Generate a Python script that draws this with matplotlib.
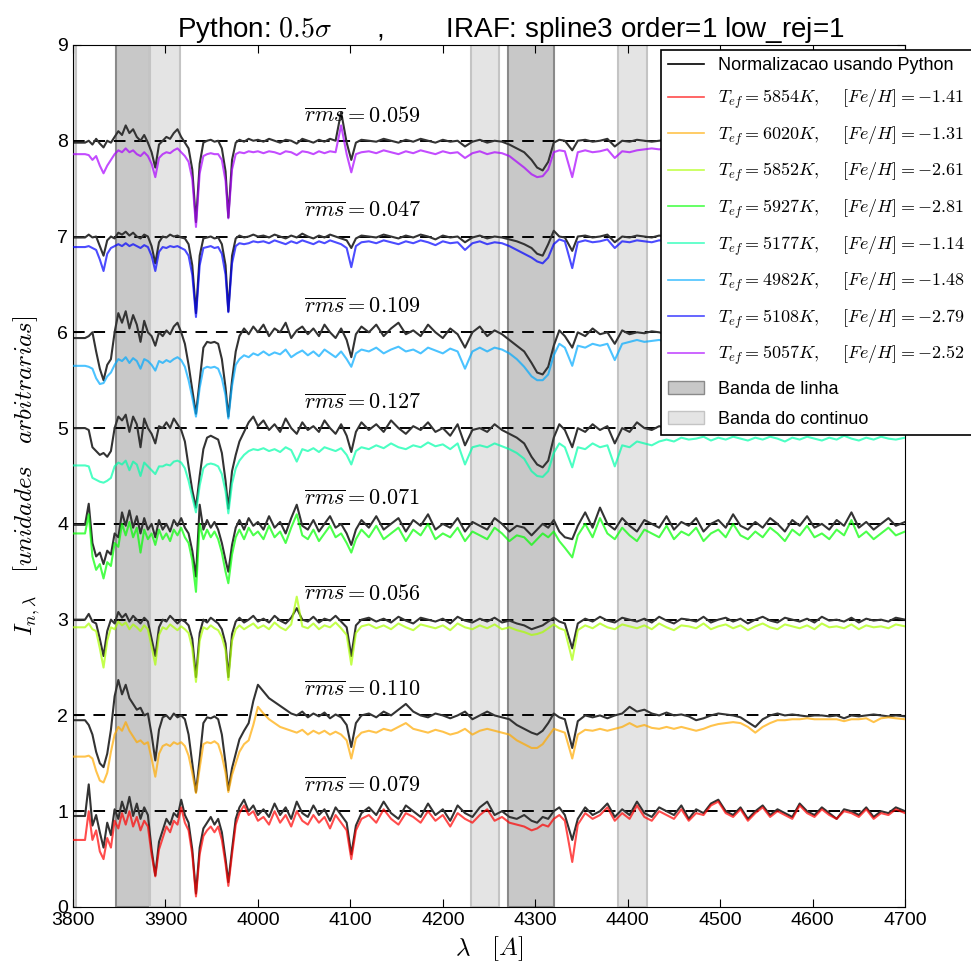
import matplotlib.pyplot as plt
from matplotlib.lines import Line2D
from matplotlib.patches import Patch
import numpy as np

plt.rcParams['font.family'] = ['Liberation Sans', 'DejaVu Sans']
plt.rcParams['mathtext.fontset'] = 'cm'

# wavelength grid (A)
wave = [3800, 3813,
        3817, 3821, 3825, 3829, 3833, 3837, 3841, 3845, 3849, 3853,
        3857, 3861, 3865, 3869, 3873, 3877, 3881, 3885, 3889, 3893,
        3897, 3901, 3905, 3909, 3913, 3917, 3921, 3925, 3929, 3933,
        3937, 3941, 3945, 3949, 3953, 3957, 3961, 3965,
        3968, 3972, 3976, 3980, 3985, 3990, 3995, 4000,
        4006, 4012, 4018, 4024, 4030, 4036, 4042, 4048, 4054, 4060, 4066, 4072, 4078, 4084, 4090, 4096,
        4101, 4106, 4112,
        4120, 4128, 4136, 4144, 4152, 4160, 4168, 4176, 4184, 4192, 4200, 4208, 4216, 4224, 4232, 4240,
        4248, 4256, 4264, 4272, 4280, 4288, 4296,
        4302, 4308, 4314, 4320, 4326, 4332, 4340, 4346,
        4354, 4362, 4370, 4378, 4386, 4394, 4402, 4410, 4418, 4426, 4434, 4442, 4450, 4458, 4466,
        4474, 4482, 4490, 4498, 4506, 4514, 4522, 4530, 4538, 4546, 4554, 4562, 4570, 4578, 4586,
        4594, 4602, 4610, 4618, 4626, 4634, 4642, 4650, 4658, 4666, 4674, 4682, 4690, 4700]

# flux in percent of the continuum
# star 1: Tef=5854K
py_1 = [95, 95,
        128, 85, 96, 78, 62, 88, 75, 102, 92, 110,
        98, 115, 95, 108, 92, 104, 96, 60, 33, 68,
        80, 92, 86, 98, 94, 112, 96, 88, 60, 14,
        62, 82, 88, 94, 86, 92, 78, 50,
        26, 60, 92, 104, 112, 100, 106, 96,
        102, 94, 108, 96, 104, 92, 110, 98, 94, 106, 96, 102, 90, 104, 96, 88,
        55, 85, 98,
        104, 96, 110, 98, 92, 106, 100, 94, 108, 96, 102, 90, 106, 98, 94, 104, 110, 96, 100, 94, 92, 96, 90,
        88, 94, 92, 100, 104, 96, 70, 92,
        104, 96, 100, 108, 94, 102, 96, 110, 98, 94, 104, 100, 96, 106, 92, 102, 98, 108, 112, 100, 96, 104,
        92, 100, 106, 96, 102, 98, 94, 108, 100, 96, 104, 98, 92, 102, 100, 96, 104, 94, 100, 98, 104, 100]
iraf_1 = [70, 70,
          100, 70, 80, 58, 50, 72, 62, 90, 82, 98,
          86, 100, 84, 94, 80, 90, 84, 55, 32, 60,
          72, 84, 78, 90, 86, 104, 88, 80, 55, 11,
          55, 74, 80, 84, 78, 84, 70, 45,
          22, 55, 86, 98, 106, 96, 100, 90,
          94, 86, 100, 88, 96, 84, 100, 90, 86, 96, 88, 94, 82, 96, 88, 80,
          50, 80, 92,
          96, 88, 102, 92, 86, 98, 94, 88, 100, 90, 96, 84, 98, 92, 88, 96, 102, 90, 94, 88, 86, 84, 80,
          82, 86, 84, 92, 96, 90, 47, 86,
          98, 92, 96, 104, 90, 98, 92, 106, 94, 90, 100, 96, 92, 102, 90, 98, 96, 106, 110, 98, 94, 102,
          90, 98, 104, 94, 100, 96, 92, 106, 98, 94, 102, 96, 92, 100, 98, 94, 102, 92, 98, 96, 102, 98]
# star 2: Tef=6020K
py_2 = [95, 95,
        90, 80, 62, 50, 46, 60, 85, 120, 137, 122,
        132, 118, 112, 106, 108, 100, 102, 80, 53, 85,
        98, 100, 96, 102, 98, 100, 96, 80, 50, 20,
        55, 92, 98, 97, 99, 96, 80, 50,
        22, 45, 60, 75, 84, 92, 115, 132,
        125, 118, 114, 110, 106, 102, 100, 104, 98, 102, 99, 103, 97, 101, 98, 90,
        67, 92, 100,
        102, 98, 104, 100, 106, 112, 104, 100, 98, 102, 100, 97, 100, 104, 96, 100, 104, 100, 98, 96, 90, 86, 82,
        80, 84, 92, 102, 98, 96, 66, 94,
        100, 98, 100, 97, 100, 102, 109, 104, 106, 102, 100, 103, 100, 101, 99, 95, 97, 100, 102, 101, 100, 98,
        93, 88, 96, 100, 102, 100, 101, 100, 99, 100, 100, 99, 100, 97, 100, 99, 100, 101, 100, 99, 100, 99]
iraf_2 = [57, 57,
          58, 55, 42, 32, 30, 40, 62, 80, 88, 84,
          93, 84, 78, 72, 74, 70, 72, 55, 36, 60,
          68, 70, 68, 72, 70, 72, 68, 58, 40, 19,
          45, 70, 72, 71, 73, 70, 58, 40,
          20, 38, 50, 62, 70, 74, 90, 109,
          102, 96, 92, 88, 86, 84, 82, 85, 80, 84, 81, 84, 80, 83, 80, 74,
          55, 76, 82,
          84, 82, 86, 84, 88, 92, 86, 84, 82, 85, 83, 80, 82, 86, 80, 84, 86, 84, 82, 80, 74, 70, 66,
          66, 70, 78, 86, 84, 82, 55, 80,
          85, 84, 86, 84, 86, 88, 92, 88, 90, 87, 86, 88, 86, 88, 86, 84, 86, 89, 91, 92, 93, 92,
          88, 82, 88, 92, 95, 95, 96, 96, 97, 96, 96, 96, 96, 94, 96, 96, 97, 93, 97, 98, 97, 96]
# star 3: Tef=5852K
py_3 = [100, 100,
        106, 98, 96, 80, 62, 88, 100, 96, 108, 102,
        106, 98, 104, 100, 96, 102, 98, 80, 62, 92,
        100, 98, 104, 100, 96, 100, 98, 94, 80, 40,
        86, 100, 97, 102, 99, 96, 90, 75,
        40, 85, 98, 102, 97, 100, 104, 98,
        101, 97, 104, 99, 96, 102, 112, 100, 98, 103, 97, 101, 99, 104, 98, 92,
        62, 94, 100,
        102, 98, 101, 97, 103, 99, 96, 102, 100, 98, 101, 96, 103, 99, 97, 101, 98, 102, 97, 99, 96, 94, 90,
        92, 94, 98, 102, 98, 96, 70, 96,
        101, 98, 103, 99, 97, 102, 100, 98, 101, 97, 103, 99, 96, 101, 100, 98, 103, 97, 100, 102, 98, 101,
        96, 100, 103, 99, 97, 102, 100, 98, 101, 97, 103, 99, 100, 98, 102, 97, 101, 99, 100, 98, 102, 100]
iraf_3 = [92, 92,
          96, 90, 88, 70, 50, 78, 92, 90, 98, 94,
          97, 90, 95, 92, 88, 94, 90, 72, 53, 84,
          92, 90, 95, 92, 89, 93, 90, 86, 70, 35,
          78, 92, 90, 94, 91, 89, 82, 68,
          37, 78, 90, 94, 90, 93, 96, 91,
          94, 90, 97, 92, 89, 95, 124, 93, 91, 96, 90, 94, 92, 97, 91, 84,
          53, 86, 93,
          95, 91, 94, 90, 96, 92, 89, 95, 93, 91, 94, 89, 96, 92, 90, 94, 91, 95, 90, 92, 89, 87, 84,
          85, 87, 91, 95, 91, 89, 58, 89,
          94, 91, 96, 92, 90, 95, 93, 91, 94, 90, 96, 92, 89, 94, 93, 91, 96, 90, 93, 95, 91, 94,
          89, 93, 96, 92, 90, 95, 93, 91, 94, 90, 96, 92, 93, 91, 95, 90, 94, 92, 93, 91, 95, 93]
# star 4: Tef=5927K
py_4 = [99, 99,
        121, 80, 66, 70, 58, 72, 68, 90, 86, 112,
        98, 114, 96, 108, 90, 106, 94, 100, 86, 104,
        94, 100, 92, 104, 98, 106, 96, 90, 72, 45,
        120, 94, 104, 96, 102, 94, 80, 62,
        50, 78, 96, 104, 94, 106, 98, 102,
        94, 108, 96, 102, 90, 106, 120, 98, 94, 104, 92, 100, 108, 96, 100, 90,
        78, 94, 104,
        96, 108, 94, 100, 106, 92, 104, 98, 110, 94, 100, 96, 106, 92, 102, 98, 94, 106, 100, 92, 98, 96, 88,
        94, 100, 96, 104, 92, 86, 84, 98,
        112, 96, 117, 100, 94, 106, 98, 92, 104, 100, 96, 108, 94, 102, 98, 106, 92, 100, 104, 96, 110, 98,
        94, 102, 96, 106, 100, 92, 104, 98, 108, 96, 100, 94, 104, 98, 112, 96, 102, 94, 100, 106, 98, 102]
iraf_4 = [90, 90,
          110, 66, 52, 58, 43, 60, 56, 80, 76, 100,
          88, 102, 86, 96, 70, 94, 84, 90, 78, 94,
          84, 90, 82, 94, 88, 96, 86, 80, 62, 29,
          100, 84, 94, 86, 92, 84, 70, 50,
          38, 68, 86, 94, 84, 96, 88, 92,
          84, 98, 86, 92, 80, 96, 110, 88, 84, 94, 82, 90, 98, 86, 90, 80,
          70, 84, 94,
          86, 98, 84, 90, 96, 82, 94, 88, 100, 84, 90, 86, 96, 82, 92, 88, 84, 96, 90, 82, 88, 86, 78,
          84, 90, 86, 92, 82, 75, 65, 88,
          100, 86, 106, 90, 84, 96, 88, 82, 94, 90, 86, 98, 84, 92, 88, 96, 82, 90, 94, 86, 100, 88,
          84, 92, 86, 96, 90, 82, 94, 88, 98, 86, 90, 84, 94, 88, 104, 86, 92, 84, 90, 96, 88, 92]
# star 5: Tef=5177K
py_5 = [100, 100,
        98, 80, 76, 72, 74, 70, 76, 100, 112, 108,
        114, 96, 112, 104, 80, 110, 100, 94, 84, 102,
        100, 106, 100, 110, 104, 98, 86, 60, 35, 17,
        50, 78, 90, 92, 90, 88, 74, 45,
        16, 55, 72, 86, 96, 106, 112, 102,
        108, 98, 104, 96, 110, 100, 94, 106, 98, 102, 96, 108, 100, 94, 104, 92,
        75, 96, 106,
        98, 104, 96, 108, 100, 94, 102, 98, 106, 96, 100, 92, 104, 82, 98, 100, 96, 104, 98, 94, 90, 84, 70,
        62, 59, 66, 90, 104, 98, 80, 100,
        96, 104, 98, 102, 84, 100, 96, 106, 100, 98, 102, 100, 98, 101, 100, 99, 100, 98, 101, 100, 99, 100,
        98, 100, 101, 99, 100, 98, 100, 101, 99, 100, 98, 100, 99, 101, 100, 98, 100, 99, 101, 100, 99, 100]
iraf_5 = [61, 61,
          60, 48, 46, 44, 43, 45, 48, 60, 64, 62,
          66, 56, 65, 62, 50, 64, 60, 56, 52, 60,
          60, 62, 61, 65, 66, 64, 58, 45, 28, 12,
          40, 58, 62, 63, 62, 60, 52, 34,
          11, 42, 58, 66, 72, 76, 78, 77,
          79, 76, 78, 75, 80, 77, 65, 78, 76, 79, 75, 80, 78, 76, 79, 72,
          62, 76, 80,
          78, 82, 79, 84, 80, 78, 82, 80, 85, 81, 83, 78, 84, 62, 80, 82, 80, 84, 81, 78, 74, 68, 55,
          50, 49, 55, 74, 84, 80, 59, 80,
          78, 84, 80, 82, 60, 82, 80, 86, 84, 82, 86, 88, 86, 90, 88, 89, 91, 87, 90, 88, 91, 89,
          87, 90, 88, 91, 89, 86, 90, 88, 91, 89, 87, 90, 88, 92, 89, 87, 90, 88, 91, 89, 88, 90]
# star 6: Tef=4982K
py_6 = [94, 94,
        96, 100, 80, 62, 50, 66, 72, 100, 120, 110,
        122, 104, 118, 108, 90, 112, 100, 96, 86, 100,
        96, 102, 98, 106, 110, 100, 88, 66, 40, 15,
        50, 84, 90, 89, 90, 88, 72, 42,
        12, 50, 80, 96, 104, 98, 106, 100,
        108, 96, 104, 100, 110, 94, 102, 106, 98, 104, 96, 108, 100, 94, 104, 92,
        74, 98, 106,
        100, 108, 96, 104, 110, 98, 102, 96, 108, 100, 94, 104, 98, 84, 100, 106, 96, 102, 98, 92, 86, 80, 68,
        58, 56, 64, 86, 102, 96, 84, 100,
        96, 104, 98, 100, 88, 102, 98, 100, 99, 101, 100, 98, 100, 101, 99, 100, 98, 100, 101, 99, 100, 98,
        100, 101, 99, 100, 98, 100, 101, 99, 100, 98, 100, 101, 99, 100, 98, 100, 101, 99, 100, 98, 100, 100]
iraf_6 = [65, 65,
          64, 62, 52, 46, 47, 54, 58, 66, 72, 70,
          74, 68, 73, 70, 62, 72, 70, 66, 60, 70,
          68, 71, 69, 72, 74, 71, 64, 50, 32, 12,
          42, 62, 64, 63, 64, 62, 52, 34,
          10, 44, 66, 72, 76, 74, 78, 76,
          80, 76, 79, 77, 82, 74, 78, 81, 76, 80, 75, 82, 78, 74, 80, 72,
          64, 78, 82,
          80, 84, 78, 82, 85, 80, 82, 78, 84, 81, 78, 83, 80, 62, 80, 84, 80, 84, 82, 78, 72, 64, 54,
          50, 50, 56, 76, 88, 84, 65, 86,
          84, 88, 86, 88, 71, 88, 90, 92, 90, 91, 92, 90, 91, 92, 90, 91, 92, 90, 91, 92, 90, 91,
          92, 90, 91, 92, 90, 91, 92, 90, 91, 92, 90, 91, 92, 90, 91, 92, 90, 91, 92, 90, 91, 92]
# star 7: Tef=5108K
py_7 = [99, 99,
        102, 99, 100, 90, 80, 96, 100, 98, 104, 102,
        105, 101, 104, 100, 98, 102, 100, 90, 72, 94,
        100, 99, 102, 100, 101, 99, 98, 92, 70, 20,
        80, 98, 99, 100, 98, 99, 92, 70,
        22, 80, 98, 101, 99, 100, 102, 100,
        101, 99, 102, 100, 98, 101, 99, 103, 100, 98, 101, 99, 102, 100, 98, 96,
        88, 98, 101,
        100, 99, 102, 100, 98, 101, 99, 102, 100, 97, 101, 99, 100, 94, 99, 101, 98, 100, 99, 97, 95, 92, 88,
        82, 80, 92, 106, 100, 99, 85, 100,
        101, 99, 100, 102, 94, 100, 99, 101, 100, 99, 101, 100, 99, 101, 100, 98, 100, 101, 99, 100, 101, 99,
        100, 98, 101, 100, 99, 101, 100, 99, 100, 101, 99, 100, 98, 101, 100, 99, 101, 100, 99, 100, 101, 100]
iraf_7 = [89, 89,
          90, 88, 86, 76, 64, 82, 88, 90, 92, 90,
          93, 90, 92, 90, 88, 91, 89, 80, 64, 84,
          89, 88, 90, 89, 90, 88, 86, 80, 60, 16,
          70, 88, 89, 90, 88, 89, 82, 60,
          21, 72, 90, 93, 92, 93, 95, 94,
          95, 93, 96, 94, 92, 95, 93, 96, 94, 92, 95, 93, 96, 94, 92, 88,
          68, 90, 94,
          95, 93, 96, 94, 92, 95, 93, 96, 94, 91, 95, 93, 94, 86, 93, 95, 92, 94, 93, 90, 86, 82, 78,
          74, 72, 78, 92, 97, 95, 67, 94,
          96, 94, 95, 97, 88, 95, 94, 96, 95, 94, 96, 95, 94, 96, 95, 93, 95, 96, 94, 95, 96, 94,
          95, 93, 96, 95, 94, 96, 95, 94, 95, 96, 94, 95, 93, 96, 95, 94, 96, 95, 94, 95, 96, 95]
# star 8: Tef=5057K
py_8 = [98, 98,
        100, 96, 102, 97, 93, 100, 98, 104, 110, 106,
        116, 108, 112, 104, 100, 106, 98, 88, 72, 96,
        100, 104, 102, 108, 112, 104, 98, 92, 70, 15,
        76, 98, 100, 101, 99, 100, 92, 68,
        20, 80, 98, 101, 99, 102, 100, 101,
        99, 102, 100, 98, 101, 100, 97, 102, 100, 98, 101, 99, 102, 100, 130, 98,
        80, 98, 101,
        100, 99, 102, 100, 98, 101, 99, 102, 100, 98, 101, 99, 100, 94, 99, 101, 98, 100, 99, 96, 92, 88, 80,
        72, 69, 78, 98, 101, 100, 90, 100,
        101, 99, 100, 102, 94, 100, 99, 101, 100, 99, 100, 101, 99, 100, 98, 101, 100, 99, 101, 100, 99, 101,
        100, 98, 100, 101, 99, 100, 101, 99, 100, 98, 101, 100, 99, 101, 100, 99, 100, 101, 99, 100, 101, 100]
iraf_8 = [86, 86,
          85, 80, 84, 74, 66, 74, 80, 86, 90, 88,
          92, 88, 90, 86, 84, 88, 84, 76, 62, 82,
          86, 88, 87, 90, 92, 88, 84, 78, 60, 10,
          66, 84, 86, 87, 86, 86, 80, 58,
          19, 70, 86, 88, 87, 89, 88, 89,
          87, 89, 88, 86, 89, 88, 85, 89, 88, 86, 89, 87, 89, 88, 116, 86,
          67, 86, 88,
          89, 87, 90, 88, 86, 89, 87, 90, 88, 86, 89, 87, 88, 82, 87, 89, 86, 88, 87, 84, 78, 72, 65,
          62, 63, 70, 88, 90, 89, 62, 88,
          90, 88, 89, 91, 82, 89, 88, 90, 91, 92, 91, 92, 90, 91, 92, 90, 91, 92, 90, 91, 92, 90,
          91, 92, 90, 91, 92, 90, 91, 92, 90, 91, 92, 90, 91, 92, 90, 91, 92, 90, 91, 92, 90, 91]

python_norm = [py_1, py_2, py_3, py_4, py_5, py_6, py_7, py_8]
iraf_norm = [iraf_1, iraf_2, iraf_3, iraf_4, iraf_5, iraf_6, iraf_7, iraf_8]
teff = [5854, 6020, 5852, 5927, 5177, 4982, 5108, 5057]
feh = [-1.41, -1.31, -2.61, -2.81, -1.14, -1.48, -2.79, -2.52]
rms = [0.079, 0.110, 0.056, 0.071, 0.127, 0.109, 0.047, 0.059]

# index bands (A)
line_bands = [(3846, 3883), (4270, 4320)]
cont_bands = [(3785, 3803), (3883, 3916), (4230, 4261), (4390, 4421)]

colors = ['#ff0000', '#ffaa00', '#aaff00', '#00ff00', '#00ffaa', '#00aaff', '#0000ff', '#aa00ff']

fig = plt.figure(figsize=(9.71, 9.69), dpi=100)
ax = fig.add_axes([0.0752, 0.064, 0.8569, 0.8896])

for a, b in line_bands:
    ax.axvspan(a, b, facecolor='#c8c8c8', edgecolor='#8a8a8a', lw=1.5, zorder=0)
for a, b in cont_bands:
    ax.axvspan(a, b, facecolor='#e4e4e4', edgecolor='#c4c4c4', lw=1.5, zorder=0)

w = np.array(wave)
for i in range(8):
    ax.axhline(i + 1, color='k', ls=(0, (6, 4.5)), lw=1.4, zorder=1)
    ax.plot(w, np.array(python_norm[i]) / 100 + i, color='#333333', lw=1.5, zorder=2)
    ax.plot(w, np.array(iraf_norm[i]) / 100 + i, color=colors[i], alpha=0.7, lw=1.5, zorder=3)
    ax.text(4050, i + 1.2, r'$\overline{rms}=%.3f$' % rms[i], fontsize=16)

ax.set_xlim(3800, 4700)
ax.set_ylim(0, 9)
ax.set_xticks(np.arange(3800, 4701, 100))
ax.set_yticks(np.arange(0, 10, 1))
ax.tick_params(direction='in', top=True, right=True, length=6, labelsize=14)
ax.set_xlabel(r'$\lambda\quad[A]$', fontsize=18)
ax.set_ylabel(r'$I_{n,\lambda}\quad[unidades\quad arbitrarias]$', fontsize=18)
ax.yaxis.set_label_coords(-0.037, 0.5)
ax.set_title(r'Python: $0.5\sigma$      ,        IRAF: spline3 order=1 low_rej=1',
             fontsize=20, x=0.526)

handles = [Line2D([], [], color='k', lw=1.2)]
labels = ['Normalizacao usando Python']
for i in range(8):
    handles.append(Line2D([], [], color=colors[i], alpha=0.7, lw=1.2))
    labels.append(r'$T_{ef}=%dK,\quad\ [Fe/H]=%.2f$' % (teff[i], feh[i]))
handles.append(Patch(facecolor='#c8c8c8', edgecolor='#8a8a8a'))
labels.append('Banda de linha')
handles.append(Patch(facecolor='#e4e4e4', edgecolor='#c4c4c4'))
labels.append('Banda do continuo')
leg = ax.legend(handles, labels, loc='upper right', bbox_to_anchor=(1.081, 0.994), fontsize=13,
                fancybox=False, framealpha=1, edgecolor='k', labelspacing=0.74, borderaxespad=0)
leg.get_frame().set_linewidth(1.2)
leg.set_zorder(10)

fig.savefig('out.png', dpi=100)
